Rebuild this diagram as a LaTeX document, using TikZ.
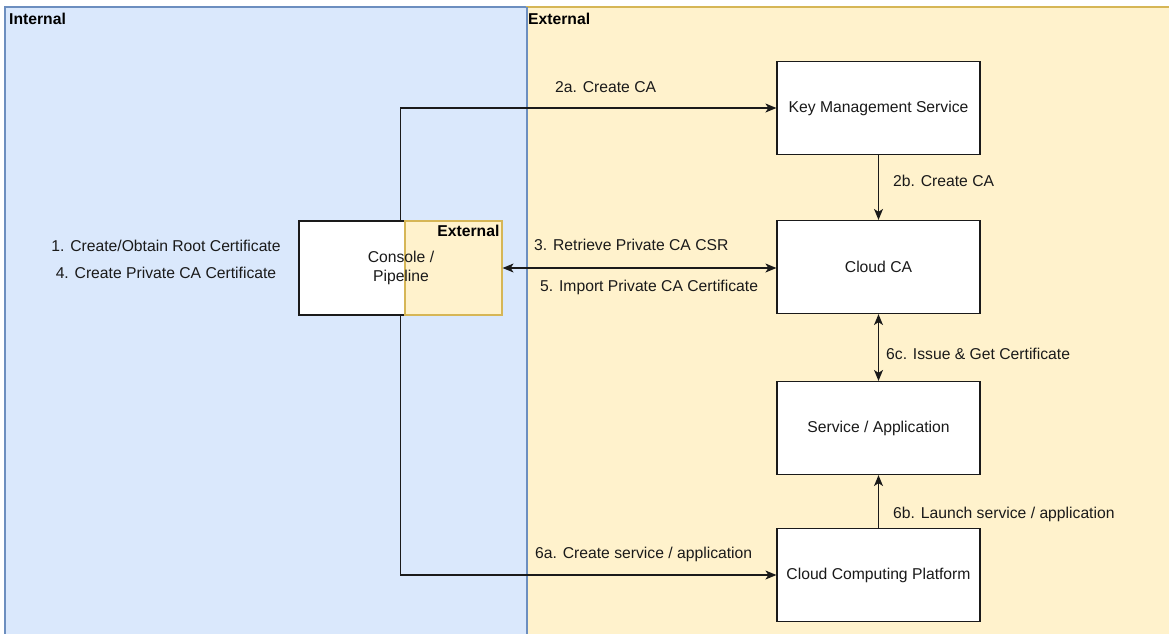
\documentclass[tikz,border=0pt]{standalone}
\usepackage{fontspec}
\setmainfont{Liberation Sans}
\usetikzlibrary{arrows.meta}
\definecolor{intfill}{HTML}{DAE8FC}
\definecolor{intline}{HTML}{6C8EBF}
\definecolor{extfill}{HTML}{FFF2CC}
\definecolor{extline}{HTML}{D6B656}
\definecolor{ink}{HTML}{1A1A1A}
\newcommand{\diafont}{\fontsize{15.7}{19}\selectfont}
\tikzset{
  box/.style={draw=ink, line width=1.2pt, fill=white, minimum width=203pt,
    minimum height=93pt, inner sep=0pt, font=\diafont, text=ink, align=center},
  lbl/.style={font=\diafont, text=ink, inner sep=0pt, anchor=west},
  hdr/.style={font=\diafont\bfseries, text=black, inner sep=0pt},
  flow/.style={draw=ink, line width=1.2pt, -{Stealth[length=11pt,width=9pt,inset=3pt]}},
  flowboth/.style={draw=ink, line width=1.2pt, {Stealth[length=11pt,width=9pt,inset=3pt]}-{Stealth[length=11pt,width=9pt,inset=3pt]}},
}
\begin{document}
\begin{tikzpicture}[x=1pt, y=-1pt]
\useasboundingbox (0,0) rectangle (1169,633);
\fill[white] (0,0) rectangle (1169,633);
\begin{scope}
\clip (0,0) rectangle (1169,633);
% swimlanes
\draw[fill=intfill, draw=intline, line width=1.2pt] (5,7) rectangle (527,645);
\draw[fill=extfill, draw=extline, line width=1.2pt] (527,7) rectangle (1180,645);
\draw[intline, line width=1.2pt] (527,7) -- (527,645);
\end{scope}
\node[hdr, anchor=west] (inthdr) at (9,19) {Internal};
\node[hdr, anchor=west] (exthdr) at (528,19) {External};

% console / pipeline with its external part
\node[box, minimum height=94pt] (console) at (400.5,268) {};
\node[draw=extline, fill=extfill, line width=1.2pt, minimum width=97pt, minimum height=94pt, inner sep=0pt, anchor=east] (consext) at (console.east) {};
\node[hdr, anchor=north east] (consexthdr) at ([xshift=-3pt,yshift=-5pt]consext.north east) {External};
\node[font=\diafont, text=ink, align=center, inner sep=0pt] (consolelbl) at (401,268) {Console /\\Pipeline};

% external services
\node[box] (kms) at (878.5,108) {Key Management Service};
\node[box] (cloudca) at (878.5,267) {Cloud CA};
\node[box] (svc) at (878.5,428) {Service / Application};
\node[box] (ccp) at (878.5,575) {Cloud Computing Platform};

% flows
\draw[flow] (console.north) |- (kms.west);
\draw[flow] (kms.south) -- (cloudca.north);
\draw[flowboth] (console.east) -- (cloudca.west |- console.east);
\draw[flowboth] (cloudca.south) -- (svc.north);
\draw[flow] (ccp.north) -- (svc.south);
\draw[flow] (console.south) |- (ccp.west);

% step labels
\node[lbl] (l2a) at (555,87) {2a. Create CA};
\node[lbl] (l2b) at (893,181) {2b. Create CA};
\node[lbl] (l3) at (534,245) {3. Retrieve Private CA CSR};
\node[lbl] (l5) at (540,287) {5. Import Private CA Certificate};
\node[lbl] (l6c) at (886,354) {6c. Issue \& Get Certificate};
\node[lbl] (l6b) at (893,514) {6b. Launch service / application};
\node[lbl] (l6a) at (535,554) {6a. Create service / application};
\node[lbl, anchor=center] (l1) at (166,246) {1. Create/Obtain Root Certificate};
\node[lbl, anchor=center] (l4) at (166,273) {4. Create Private CA Certificate};
\end{tikzpicture}
\end{document}
